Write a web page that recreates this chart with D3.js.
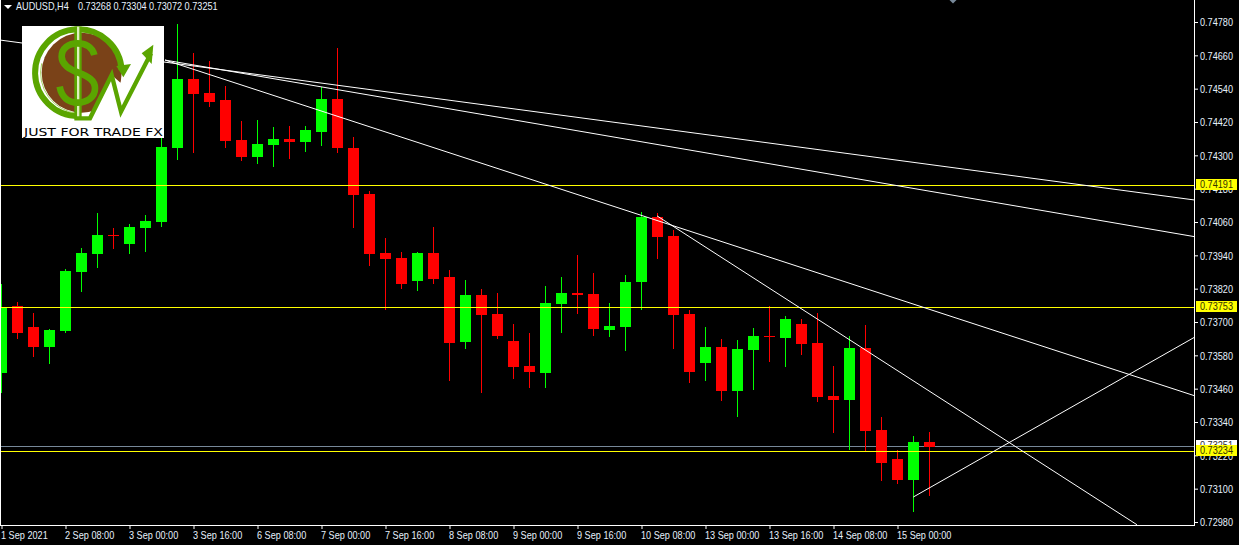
<!DOCTYPE html>
<html><head><meta charset="utf-8">
<script src="https://cdn.jsdelivr.net/npm/d3@7"></script>
<style>
html,body{margin:0;padding:0;background:#000;overflow:hidden}
svg{display:block}
text{font-family:"Liberation Sans",sans-serif;font-size:11px}
</style></head><body>
<svg id="c" width="1239" height="545"></svg>
<script>
const symbolTitle = "AUDUSD,H4";
const ohlcLabel = ["0.73268","0.73304","0.73072","0.73251"];
const opens = [73516,73758,73682,73610,73668,73880,73945,74013,73981,74038,74060,74326,74575,74524,74499,74355,74294,74337,74359,74348,74384,74503,74326,74161,73948,73930,73848,73948,73862,73628,73797,73729,73632,73542,73516,73765,73804,73801,73671,73682,73844,74078,74010,73729,73552,73610,73452,73599,73650,73642,73693,73624,73434,73419,73606,73311,73207,73131,73268];
const highs = [73837,73772,73732,73675,73891,73966,74092,74038,74053,74085,74362,74773,74668,74640,74550,74424,74427,74402,74406,74406,74546,74686,74366,74172,74002,73952,73952,74042,73887,73851,73819,73804,73693,73660,73830,73862,73941,73876,73768,73869,74096,74092,74031,73743,73682,73639,73635,73678,73758,73722,73711,73732,73542,73650,73689,73358,73239,73290,73304];
const lows = [73444,73639,73574,73549,73660,73808,73894,73963,73945,73952,74042,74283,74308,74474,74326,74280,74269,74258,74287,74312,74334,74308,74038,73902,73743,73819,73812,73837,73488,73603,73444,73639,73495,73462,73462,73660,73729,73650,73646,73596,73743,73927,73603,73480,73488,73416,73358,73455,73556,73538,73581,73412,73300,73239,73236,73128,73117,73016,73072];
const closes = [73754,73660,73610,73671,73884,73948,74013,74010,74042,74064,74330,74575,74521,74492,74352,74294,74341,74359,74348,74391,74503,74326,74157,73945,73927,73837,73948,73855,73624,73797,73725,73650,73538,73520,73768,73804,73797,73675,73686,73844,74078,74006,73725,73520,73610,73452,73603,73650,73646,73711,73621,73430,73419,73606,73308,73192,73131,73268,73251];
const dateLabels = ["1 Sep 2021","2 Sep 08:00","3 Sep 00:00","3 Sep 16:00","6 Sep 08:00","7 Sep 00:00","7 Sep 16:00","8 Sep 08:00","9 Sep 00:00","9 Sep 16:00","10 Sep 08:00","13 Sep 00:00","13 Sep 16:00","14 Sep 08:00","15 Sep 00:00"];
const dateBars = [0,4,8,12,16,20,24,28,32,36,40,44,48,52,56];
const priceTicks = [74780,74660,74540,74420,74300,74180,74060,73940,73820,73700,73580,73460,73340,73220,73100,72980];
const levels = [74191,73753,73234];
const bid = 73251;
// trendlines: [barA, priceA, barB, priceB]
const trendBarA = [-0.09,10.22,10.22,40.97,56.99];
const trendPriceA = [74715,74643,74643,74082,73070];
const trendBarB = [74.59,74.59,74.59,70.97,74.59];
const trendPriceB = [74139,74007,73434,72970,73646];

const W=1239,H=545,plotR=1194.5,plotB=525.5;
const x=d3.scaleLinear().domain([0,1]).range([1.5,17.5]);
const y=d3.scaleLinear().domain([74780,72980]).range([22,522]);
const svg=d3.select("#c");
svg.append("rect").attr("width",W).attr("height",H).attr("fill","#000");
const defs=svg.append("defs");
defs.append("clipPath").attr("id","plot").append("rect").attr("x",1).attr("y",0).attr("width",plotR-1).attr("height",plotB);
const plot=svg.append("g").attr("clip-path","url(#plot)");

const crisp=s=>s.attr("shape-rendering","crispEdges");
// condense text horizontally to match the narrow platform font
const narrow=(s,f=0.83)=>s.each(function(){const n=this.getComputedTextLength();d3.select(this).attr("textLength",n*f).attr("lengthAdjust","spacingAndGlyphs");});

crisp(plot.append("line").attr("x1",0).attr("x2",plotR).attr("y1",Math.floor(y(bid))+.5).attr("y2",Math.floor(y(bid))+.5).attr("stroke","#778899"));

// candles
const idx=d3.range(opens.length);
const col=i=>closes[i]>=opens[i]?"#00ff00":"#ff0000";
const g=plot.selectAll("g.k").data(idx).join("g").attr("class","k");
crisp(g.append("rect").attr("x",i=>x(i)-.5).attr("width",1).attr("y",i=>Math.round(y(highs[i]))).attr("height",i=>Math.round(y(lows[i]))-Math.round(y(highs[i]))).attr("fill",col));
crisp(g.append("rect").attr("x",i=>x(i)-5.5).attr("width",11)
  .attr("y",i=>Math.round(y(Math.max(opens[i],closes[i]))))
  .attr("height",i=>Math.max(1,Math.round(y(Math.min(opens[i],closes[i])))-Math.round(y(Math.max(opens[i],closes[i])))))
  .attr("fill",col));

levels.forEach(v=>crisp(plot.append("line").attr("x1",0).attr("x2",plotR).attr("y1",Math.round(y(v)-.5)+.5).attr("y2",Math.round(y(v)-.5)+.5).attr("stroke","#ffff00")));

trendBarA.forEach((a,k)=>plot.append("line").attr("x1",x(a)).attr("y1",y(trendPriceA[k])).attr("x2",x(trendBarB[k])).attr("y2",y(trendPriceB[k])).attr("stroke","#fff").attr("stroke-width",1));

const fr=svg.append("g");
crisp(fr.append("line").attr("x1",.5).attr("x2",.5).attr("y1",0).attr("y2",plotB).attr("stroke","#fff"));
crisp(fr.append("line").attr("x1",plotR).attr("x2",plotR).attr("y1",0).attr("y2",plotB+.5).attr("stroke","#fff"));
crisp(fr.append("line").attr("x1",0).attr("x2",plotR).attr("y1",plotB).attr("y2",plotB).attr("stroke","#fff"));

// axes (D3)
const txt="#e6f0fc";
const yAxis=d3.axisRight(y).tickValues(priceTicks).tickSize(3).tickPadding(2).tickFormat(d=>(d/100000).toFixed(5));
const ya=svg.append("g").attr("transform","translate(1195,0)").call(yAxis);
ya.select(".domain").remove();
ya.selectAll("line").attr("stroke","#fff");
ya.selectAll("text").attr("fill",txt).attr("x",5).attr("dy","0.36em").style("font-size","11px").style("font-family",'"Liberation Sans",sans-serif').call(narrow);
const barScale=d3.scalePoint().domain(dateBars).range([x(dateBars[0]),x(dateBars[dateBars.length-1])]);
const xAxis=d3.axisBottom(barScale).tickSize(4).tickPadding(0).tickFormat((d,i)=>dateLabels[i]);
const xa=svg.append("g").attr("transform","translate(0,525)").call(xAxis);
xa.select(".domain").remove();
xa.selectAll("line").attr("stroke","#fff");
xa.selectAll("text").attr("fill",txt).attr("text-anchor","start").attr("x",-1).attr("y",6).attr("dy","0.71em").style("font-size","11px").style("font-family",'"Liberation Sans",sans-serif').call(narrow);

// price tags
function tag(v,bg,fg){
  const t=svg.append("g").attr("transform",`translate(1196,${Math.floor(y(v))-6})`);
  crisp(t.append("rect").attr("x",0).attr("y",0).attr("width",41).attr("height",11).attr("fill",bg));
  t.append("text").attr("x",4).attr("y",5.5).attr("dy","0.36em").attr("fill",fg).text((v/100000).toFixed(5)).call(narrow);
}
tag(bid,"#ffffff","#333");
levels.forEach(v=>tag(v,"#ffff00","#333300"));

// title
svg.append("path").attr("d","M4 5h8l-4 4z").attr("fill","#fff");
svg.append("text").attr("x",16).attr("y",10).attr("fill",txt).text(symbolTitle).call(narrow);
svg.append("text").attr("x",78).attr("y",10).attr("fill",txt).text(ohlcLabel.join(" ")).call(narrow);

// top marker
svg.append("path").attr("d","M949.5 0h7l-3.5 3.5z").attr("fill","#778899");

// logo
const lg=svg.append("g");
crisp(lg.append("rect").attr("x",22).attr("y",26).attr("width",142).attr("height",112).attr("fill","#fff"));
const z=lg.append("g").attr("transform","translate(15,20) scale(.33333)");
const gr="#5aa500",lt="#a6d465",br="#7a4218";
defs.append("clipPath").attr("id","brownClip").append("path").attr("d","M0 0H350V120L318 190L290 165L222 295H0Z");
z.append("circle").attr("cx",200).attr("cy",158).attr("r",120).attr("fill",br).attr("clip-path","url(#brownClip)");
z.append("path").attr("d","M190 288A130 130 0 1 1 320 150").attr("fill","none").attr("stroke",gr).attr("stroke-width",18);
z.append("path").attr("d","M190 280A122 122 0 0 1 80 130").attr("fill","none").attr("stroke",lt).attr("stroke-width",3);
z.append("path").attr("d","M304 138L348 132L325 172Z").attr("fill",gr);
z.append("rect").attr("x",178).attr("y",20).attr("width",22).attr("height",275).attr("fill",gr);
z.append("rect").attr("x",186).attr("y",20).attr("width",7).attr("height",275).attr("fill","#dff0c0");
z.append("path").attr("d","M238 105C232 80 210 70 188 70C160 70 140 85 140 110C140 135 165 148 190 158C220 170 240 180 240 205C240 232 215 248 188 248C160 248 140 232 134 200").attr("fill","none").attr("stroke",gr).attr("stroke-width",20);
z.append("path").attr("d","M178 295H225L290 165L318 275L408 100").attr("fill","none").attr("stroke",gr).attr("stroke-width",13).attr("stroke-linejoin","miter");
z.append("path").attr("d","M380 100L415 74L410 132Z").attr("fill",gr);
lg.append("text").attr("x",24).attr("y",135.5).attr("textLength",139).attr("lengthAdjust","spacingAndGlyphs")
  .attr("fill","#000").style("font-family","'DejaVu Sans',sans-serif").style("font-size","11px").text("JUST FOR TRADE FX");
</script>
</body></html>
